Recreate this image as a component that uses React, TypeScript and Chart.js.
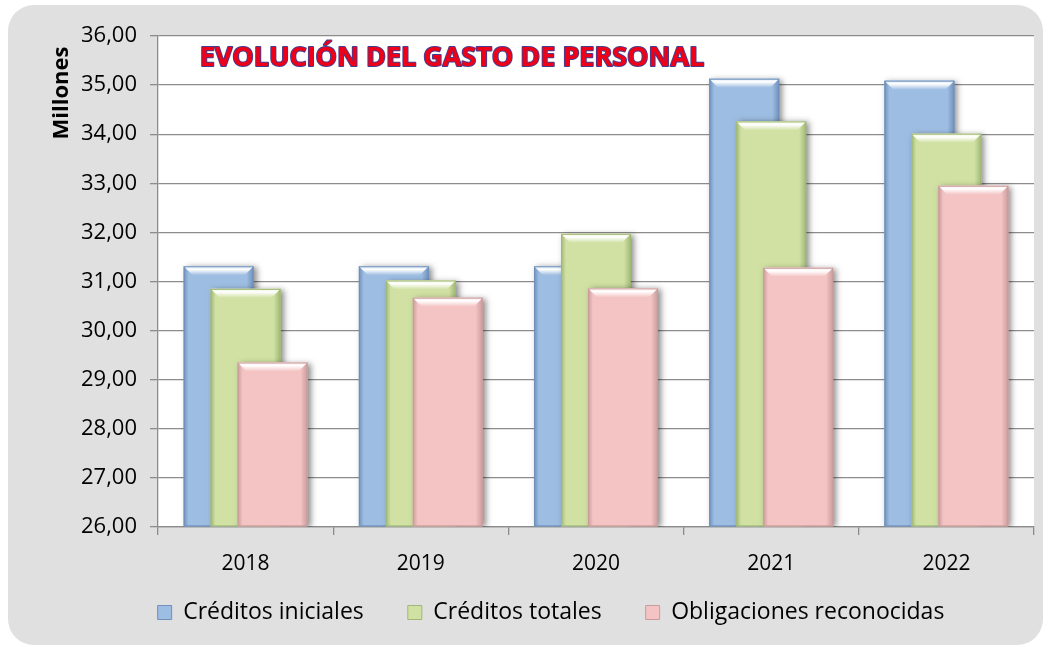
import React, { useEffect, useRef } from 'react';
import { Chart, registerables } from 'chart.js';

Chart.register(...registerables);

const categories = ['2018', '2019', '2020', '2021', '2022'];
const creditosIniciales = [31.31, 31.31, 31.31, 35.13, 35.09];
const creditosTotales = [30.85, 31.02, 31.97, 34.26, 34.01];
const obligacionesReconocidas = [29.35, 30.67, 30.86, 31.28, 32.95];
const seriesNames = ['Créditos iniciales', 'Créditos totales', 'Obligaciones reconocidas'];
const yMin = 26;
const yMax = 36;
const yStep = 1;
const chartTitle = 'EVOLUCIÓN DEL GASTO DE PERSONAL';
const yAxisTitle = 'Millones';

const palette = [
  { body: '#9dbde2', dark: '#6f90bb', light: '#d6e6f7' },
  { body: '#d0e1a3', dark: '#a0b876', light: '#eef6d8' },
  { body: '#f4c3c3', dark: '#c99c9c', light: '#fbeaea' },
];

const FONT = "'Open Sans', sans-serif";

function drawBevelBar(ctx: CanvasRenderingContext2D, el: any, col: any) {
  const p = el.getProps(['x', 'y', 'base', 'width'], true);
  const left = p.x - p.width / 2;
  const right = p.x + p.width / 2;
  const top = Math.min(p.y, p.base);
  const bottom = Math.max(p.y, p.base);
  const w = right - left;
  const h = bottom - top;
  ctx.save();
  ctx.shadowColor = 'rgba(0,0,0,0.45)';
  ctx.shadowBlur = 6;
  ctx.shadowOffsetX = 3;
  ctx.shadowOffsetY = 1;
  ctx.fillStyle = col.body;
  ctx.fillRect(left, top, w, h);
  ctx.restore();
  const g = ctx.createLinearGradient(left, 0, right, 0);
  g.addColorStop(0, col.dark);
  g.addColorStop(0.07, col.body);
  g.addColorStop(0.9, col.body);
  g.addColorStop(1, col.dark);
  ctx.fillStyle = g;
  ctx.fillRect(left, top, w, h);
  const b = Math.min(9, h / 2);
  const tg = ctx.createLinearGradient(0, top, 0, top + b);
  tg.addColorStop(0, col.light);
  tg.addColorStop(0.35, '#ffffff');
  tg.addColorStop(1, col.body);
  ctx.fillStyle = tg;
  ctx.beginPath();
  ctx.moveTo(left, top);
  ctx.lineTo(right, top);
  ctx.lineTo(right - b, top + b);
  ctx.lineTo(left + b, top + b);
  ctx.closePath();
  ctx.fill();
  ctx.strokeStyle = col.dark;
  ctx.lineWidth = 1;
  ctx.strokeRect(left + 0.5, top + 0.5, w - 1, h - 1);
}

const areaBg = {
  id: 'areaBg',
  beforeDraw(chart: any) {
    const { ctx, chartArea: a } = chart;
    const xs = chart.scales.x;
    if (xs) xs.bottom = xs.top + 70;
    ctx.save();
    ctx.fillStyle = '#ffffff';
    ctx.fillRect(a.left, a.top, a.right - a.left, a.bottom - a.top);
    ctx.restore();
  },
};

const bevelBars = {
  id: 'bevelBars',
  beforeDatasetsDraw(chart: any) {
    const ctx = chart.ctx;
    const a = chart.chartArea;
    ctx.save();
    ctx.beginPath();
    ctx.rect(a.left, a.top - 30, a.right - a.left + 10, a.bottom - a.top + 30);
    ctx.clip();
    chart.data.datasets.forEach((_ds: any, i: number) => {
      const meta = chart.getDatasetMeta(i);
      if (meta.hidden) return;
      meta.data.forEach((el: any) => drawBevelBar(ctx, el, palette[i]));
    });
    ctx.restore();
    return false;
  },
};

const textPlugin = {
  id: 'texts',
  afterDraw(chart: any) {
    const { ctx } = chart;
    const targetW = 505;
    ctx.save();
    ctx.font = `bold 28px ${FONT}`;
    const m = ctx.measureText(chartTitle).width;
    const size = (28 * targetW) / m;
    ctx.font = `bold ${size}px ${FONT}`;
    ctx.textAlign = 'center';
    ctx.textBaseline = 'middle';
    ctx.lineJoin = 'round';
    ctx.lineWidth = 2;
    ctx.strokeStyle = '#4a3c8c';
    ctx.strokeText(chartTitle, 452, 58);
    ctx.fillStyle = '#ee0018';
    ctx.fillText(chartTitle, 452, 58);
    ctx.restore();
    ctx.save();
    ctx.translate(62, 93);
    ctx.rotate(-Math.PI / 2);
    ctx.font = `bold 22px ${FONT}`;
    ctx.textAlign = 'center';
    ctx.textBaseline = 'middle';
    ctx.fillStyle = '#000';
    ctx.fillText(yAxisTitle, 0, 0);
    ctx.restore();
  },
};

function App() {
  const ref = useRef<HTMLCanvasElement | null>(null);
  useEffect(() => {
    if (!ref.current) return;
    const series = [creditosIniciales, creditosTotales, obligacionesReconocidas];
    const chart = new Chart(ref.current, {
      type: 'bar',
      data: {
        labels: categories,
        datasets: series.map((d, i) => ({
          label: seriesNames[i],
          data: d,
          base: yMin,
          backgroundColor: palette[i].body,
          borderColor: palette[i].dark,
          borderWidth: 1,
        })),
      },
      options: {
        animation: false,
        responsive: true,
        maintainAspectRatio: false,
        layout: { padding: { left: 68, right: 17, top: 36, bottom: 13 } },
        datasets: { bar: { categoryPercentage: 0.462, barPercentage: 2.59 } } as any,
        scales: {
          x: {
            grid: { drawOnChartArea: false, color: '#8c8c8c', lineWidth: 1.3, tickLength: 8 },
            border: { color: '#8c8c8c', width: 1.3 },
            ticks: { color: '#000', font: { family: FONT, size: 21 }, padding: 16 },
            afterFit: (s: any) => {
              s.height = 30;
            },
          },
          y: {
            min: yMin,
            max: yMax,
            ticks: {
              stepSize: yStep,
              color: '#000',
              font: { family: FONT, size: 22 },
              padding: 13,
              callback: (v: any) => Number(v).toFixed(2).replace('.', ','),
            },
            grid: { color: '#8c8c8c', lineWidth: 1.3, tickLength: 8 },
            border: { color: '#8c8c8c', width: 1.3 },
          },
        },
        plugins: {
          legend: {
            position: 'bottom',
            labels: {
              boxWidth: 14,
              boxHeight: 14,
              padding: 44,
              color: '#000',
              font: { family: FONT, size: 23 },
            },
          },
          tooltip: { enabled: false },
        },
      },
      plugins: [areaBg, bevelBars, textPlugin],
    });
    return () => chart.destroy();
  }, []);

  return (
    <div style={{ position: 'absolute', left: 0, top: 0, width: 1051, height: 647, background: '#ffffff' }}>
      <div
        style={{
          position: 'absolute',
          left: 8,
          top: 5,
          right: 8,
          bottom: 2,
          borderRadius: 26,
          background: '#e0e0e0',
        }}
      />
      <div style={{ position: 'absolute', left: 0, top: 0, width: 1051, height: 647 }}>
        <canvas ref={ref} />
      </div>
    </div>
  );
}

export default App;
